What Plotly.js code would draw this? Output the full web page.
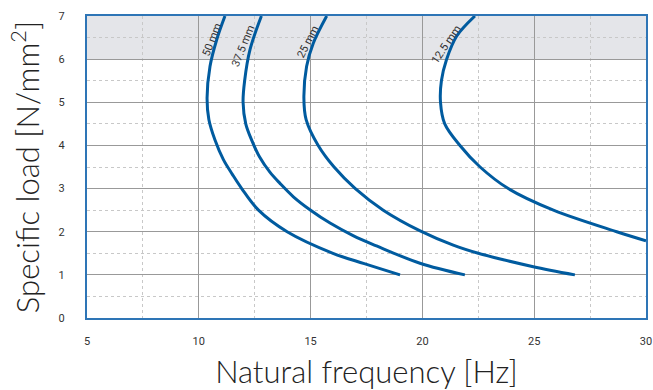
<!DOCTYPE html>
<html>
<head>
<meta charset="utf-8">
<script src="https://cdn.plot.ly/plotly-3.0.1.min.js"></script>
<style>html,body{margin:0;padding:0;background:#fff;}#chart{width:653px;height:390px;}</style>
</head>
<body>
<div id="chart"></div>
<script>
// Curve data (Natural frequency [Hz] vs Specific load [N/mm2])
const x50 = [11.17, 10.8, 10.5, 10.37, 10.45, 10.72, 11.1, 11.5, 11.92, 12.67, 13.95, 16.0, 17.4, 19.0];
const y50 = [7.0, 6.45, 5.83, 5.1, 4.6, 4.13, 3.67, 3.33, 3.0, 2.5, 2.0, 1.5, 1.26, 1.0];

const x375 = [12.8, 12.29, 12.05, 11.98, 12.1, 12.36, 12.72, 13.18, 13.63, 14.23, 14.97, 15.87, 16.9, 17.95, 19.89, 21.9];
const y375 = [7.0, 6.22, 5.5, 5.0, 4.5, 4.13, 3.73, 3.38, 3.12, 2.81, 2.51, 2.2, 1.91, 1.67, 1.27, 1.0];

const x25 = [15.72, 15.12, 14.82, 14.7, 14.8, 15.34, 16.05, 17.0, 18.25, 19.9, 21.38, 22.5, 23.62, 24.96, 26.82];
const y25 = [7.0, 6.37, 5.83, 5.1, 4.6, 4.0, 3.5, 3.0, 2.5, 2.02, 1.69, 1.5, 1.35, 1.19, 1.0];

const x125 = [22.35, 21.53, 21.08, 20.85, 20.81, 21.0, 21.68, 22.58, 23.84, 25.86, 28.69, 30.0];
const y125 = [7.0, 6.53, 5.99, 5.5, 5.0, 4.5, 4.0, 3.5, 3.0, 2.5, 2.0, 1.79];

const curveLabels = ["50 mm", "37.5 mm", "25 mm", "12.5 mm"];
const labelX = [10.6, 11.98, 14.9, 21.08];
const labelY = [6.45, 6.29, 6.4, 6.33];
const labelAngle = [-69, -68, -63, -56];

const xTicks = [5, 10, 15, 20, 25, 30];
const yTicks = [0, 1, 2, 3, 4, 5, 6, 7];

const lineColor = '#005b9f';
const mk = (x, y, n) => ({x: x, y: y, type: 'scatter', mode: 'lines', name: n,
  line: {color: lineColor, width: 3, shape: 'spline', smoothing: 1}, hoverinfo: 'skip'});

const data = [mk(x50, y50, curveLabels[0]), mk(x375, y375, curveLabels[1]),
              mk(x25, y25, curveLabels[2]), mk(x125, y125, curveLabels[3])];

const annotations = curveLabels.map((t, i) => ({
  x: labelX[i], y: labelY[i], xref: 'x', yref: 'y', text: t, showarrow: false,
  textangle: labelAngle[i], font: {family: 'Roboto, sans-serif', size: 11, color: '#333'}
}));

const layout = {
  width: 653, height: 390,
  margin: {l: 87, r: 7, t: 16, b: 72},
  paper_bgcolor: '#fff', plot_bgcolor: '#fff',
  showlegend: false,
  xaxis: {
    range: [5, 30], tickvals: xTicks, ticktext: xTicks.map(String),
    showgrid: true, gridcolor: '#999999', gridwidth: 1,
    minor: {dtick: 2.5, tick0: 5, showgrid: true, gridcolor: '#c8c8c8', griddash: 'dot', gridwidth: 1},
    showline: true, linecolor: '#2e75b6', linewidth: 2, mirror: true,
    zeroline: false, ticks: '', ticklabelstandoff: 12,
    tickfont: {family: 'Roboto, sans-serif', size: 11, color: '#333'},
    title: {text: 'Natural frequency [Hz]', standoff: 15,
      font: {family: 'Lato, sans-serif', size: 31, color: '#222', weight: 300}}
  },
  yaxis: {
    range: [0, 7], tickvals: yTicks, ticktext: yTicks.map(String),
    showgrid: true, gridcolor: '#999999', gridwidth: 1,
    minor: {dtick: 0.5, tick0: 0, showgrid: true, gridcolor: '#c8c8c8', griddash: 'dot', gridwidth: 1},
    showline: true, linecolor: '#2e75b6', linewidth: 2, mirror: true,
    zeroline: false, ticks: '', ticklabelstandoff: 18,
    tickfont: {family: 'Roboto, sans-serif', size: 11, color: '#333'},
    title: {text: 'Specific load [N/mm<sup>2</sup>]', standoff: 10,
      font: {family: 'Lato, sans-serif', size: 31, color: '#222', weight: 300}}
  },
  shapes: [{type: 'rect', xref: 'x', yref: 'y', x0: 5, x1: 30, y0: 6, y1: 7,
    fillcolor: '#e4e5e9', line: {width: 0}, layer: 'below'}],
  annotations: annotations
};

Plotly.newPlot('chart', data, layout, {displayModeBar: false, staticPlot: true});
</script>
</body>
</html>
